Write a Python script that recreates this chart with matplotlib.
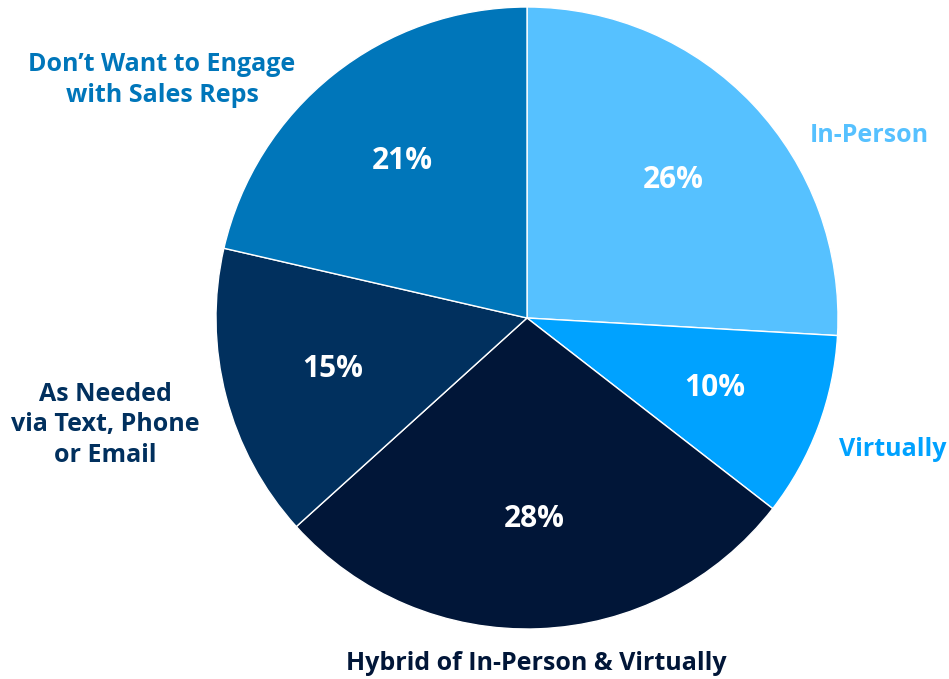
import matplotlib
matplotlib.use("Agg")
import matplotlib.pyplot as plt

categories = ["In-Person", "Virtually", "Hybrid of In-Person & Virtually",
              "As Needed\nvia Text, Phone\nor Email", "Don\u2019t Want to Engage\nwith Sales Reps"]
values = [25.9, 9.6, 27.8, 15.3, 21.4]
colors = ["#56C1FF", "#00A2FF", "#011638", "#01305E", "#0076BA"]
label_pos = [(869, 135), (893, 449), (536, 663), (105, 425), (162, 80)]  # pixel layout (y from top)

W, H = 949, 679
fig = plt.figure(figsize=(W / 100, H / 100), dpi=100)
ax = fig.add_axes([0, 0, 1, 1])
cx, cy, r = 527, H - 318, 311

wedges, texts, autotexts = ax.pie(
    values, colors=colors, startangle=90, counterclock=False,
    center=(cx, cy), radius=r, autopct=lambda p: f"{p:.0f}%", pctdistance=0.646,
    wedgeprops=dict(edgecolor="white", linewidth=1.0),
    textprops=dict(color="white", fontsize=21.5, fontweight="bold", family="Open Sans"))
ax.set_xlim(0, W)
ax.set_ylim(0, H)
ax.set_aspect("equal")
ax.set_axis_off()

for cat, col, (x, y) in zip(categories, colors, label_pos):
    ax.text(x, H - y, cat, color=col, fontsize=18, fontweight="bold", family="Open Sans",
            ha="center", va="center", linespacing=1.28)

fig.savefig("out.png", dpi=100)
